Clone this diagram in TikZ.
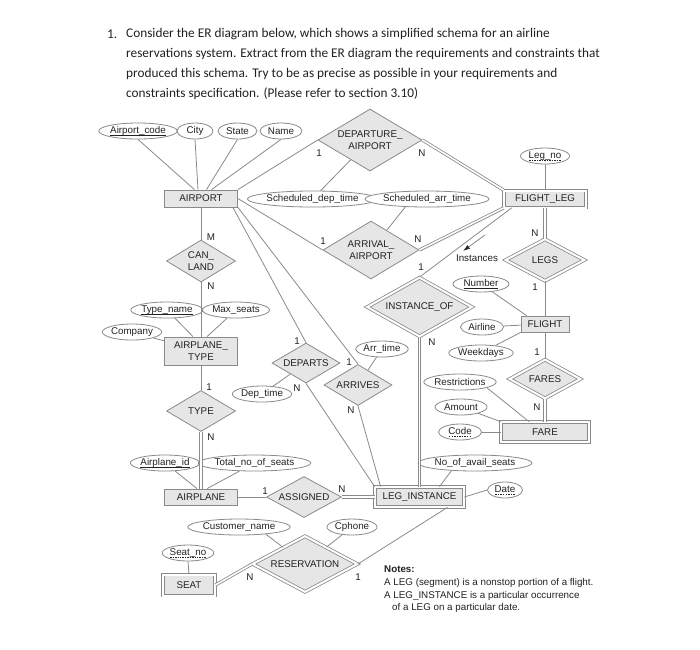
\documentclass[tikz,border=0pt]{standalone}
\usepackage{fontspec}
\setmainfont{Liberation Sans}
\newfontfamily\titlefont{Carlito}
\usetikzlibrary{shapes.geometric,arrows.meta,calc}
\definecolor{lc}{HTML}{8A8A8A}
\definecolor{ef}{HTML}{E6E6E6}
\definecolor{tc}{HTML}{222222}
\newcommand\erfont{\fontsize{9.8}{11.5}\selectfont}
\newcommand\ttlfont{\titlefont\fontsize{13.3}{20}\selectfont}
\newbox\myulbox
\newdimen\myulwd
\newcommand\solidul[1]{\setbox\myulbox\hbox{#1}\myulwd=\wd\myulbox\leavevmode\rlap{\lower2.2pt\hbox{\vrule width \myulwd height 0.45pt depth 0pt}}\copy\myulbox}
\newcommand\dashul[1]{\setbox\myulbox\hbox{#1}\myulwd=\wd\myulbox\leavevmode\rlap{\lower2.2pt\hbox to \myulwd{\xleaders\hbox to 2.4pt{\hss\vrule width 1.4pt height 0.45pt depth 0pt\hss}\hfill}}\copy\myulbox}
\begin{document}
\begin{tikzpicture}[x=1pt,y=-1pt,
  ent/.style={draw=lc, fill=ef, line width=0.8pt, rectangle, inner sep=0pt, font=\erfont, text=tc, align=center},
  went/.style={ent, double=white, double distance=2pt},
  rel/.style={draw=lc, fill=ef, line width=0.8pt, diamond, inner sep=0pt, font=\erfont, text=tc, align=center},
  wrel/.style={rel, double=white, double distance=2pt},
  att/.style={draw=lc, fill=white, ellipse, line width=0.8pt, inner sep=0pt, minimum height=16pt, font=\erfont, text=tc},
  card/.style={font=\erfont, text=tc, inner sep=0pt},
  ln/.style={draw=lc, line width=0.8pt},
  dln/.style={ln, double=white, double distance=1.6pt},
  txt/.style={inner sep=0pt, anchor=west, text=tc}
]
\useasboundingbox (0,0) rectangle (700,649);
\fill[white] (0,0) rectangle (700,649);

% title
\node[txt, font=\ttlfont] (t0) at (107,34) {1.};
\node[txt, font=\ttlfont] (t1) at (126,34) {Consider the ER diagram below, which shows a simplified schema for an airline};
\node[txt, font=\ttlfont] (t2) at (126,54) {reservations system. Extract from the ER diagram the requirements and constraints that};
\node[txt, font=\ttlfont] (t3) at (126,74) {produced this schema. Try to be as precise as possible in your requirements and};
\node[txt, font=\ttlfont] (t4) at (126,94) {constraints specification. (Please refer to section 3.10)};

% entities
\node[ent, minimum width=73pt, minimum height=17pt] (airport) at (201,198.5) {AIRPORT};
\node[went, minimum width=82pt, minimum height=17pt] (flightleg) at (545,199) {FLIGHT\_LEG};
\node[ent, minimum width=48pt, minimum height=16pt] (flight) at (545,324) {FLIGHT};
\node[ent, minimum width=73pt, minimum height=28pt] (aptype) at (201,351) {AIRPLANE\_\\TYPE};
\node[went, minimum width=88pt, minimum height=20pt] (fare) at (545,432) {FARE};
\node[ent, minimum width=73pt, minimum height=16pt] (airplane) at (201,497) {AIRPLANE};
\node[went, minimum width=89pt, minimum height=20pt] (leginst) at (419.5,497) {LEG\_INSTANCE};
\node[went, minimum width=52pt, minimum height=21pt] (seat) at (189,585) {SEAT};

% relationships
\node[rel, minimum width=104pt, minimum height=62pt, aspect=1.68] (dep) at (370,140) {DEPARTURE\_\\AIRPORT};
\node[rel, minimum width=96pt, minimum height=58pt, aspect=1.66] (arr) at (371,250) {ARRIVAL\_\\AIRPORT};
\node[rel, minimum width=69pt, minimum height=42pt, aspect=1.64] (canland) at (201,261) {CAN\_\\LAND};
\node[wrel, minimum width=79pt, minimum height=42pt, aspect=1.82] (legs) at (545,260) {LEGS};
\node[wrel, minimum width=105pt, minimum height=59pt, aspect=1.74] (inst) at (419.5,307) {INSTANCE\_OF};
\node[rel, minimum width=68pt, minimum height=40pt, aspect=1.7] (departs) at (306,363) {DEPARTS};
\node[rel, minimum width=68pt, minimum height=41pt, aspect=1.66] (arrives) at (358,385) {ARRIVES};
\node[wrel, minimum width=71pt, minimum height=39pt, aspect=1.76] (fares) at (545,379) {FARES};
\node[rel, minimum width=69pt, minimum height=41pt, aspect=1.68] (type) at (201,411) {TYPE};
\node[rel, minimum width=75pt, minimum height=41pt, aspect=1.83] (assigned) at (304,497) {ASSIGNED};
\node[wrel, minimum width=105pt, minimum height=56pt, aspect=1.83] (resv) at (305,564) {RESERVATION};

% attributes
\node[att, minimum width=70pt] (ac) at (138,131) {\solidul{Airport\_code}};
\node[att, minimum width=36pt] (city) at (195,131) {City};
\node[att, minimum width=39pt] (state) at (237.5,131) {State};
\node[att, minimum width=42pt] (name) at (281,131) {Name};
\node[att, minimum width=49pt] (legno) at (545,156) {\dashul{Leg\_no}};
\node[att, minimum width=110pt] (sdt) at (312.5,199) {Scheduled\_dep\_time};
\node[att, minimum width=104pt] (sat) at (427,199) {Scheduled\_arr\_time};
\node[att, minimum width=56pt] (number) at (481,284) {\solidul{Number}};
\node[att, minimum width=59pt] (tname) at (167,310) {\solidul{Type\_name}};
\node[att, minimum width=60pt] (mseats) at (236,310) {Max\_seats};
\node[att, minimum width=51pt] (company) at (132,332) {Company};
\node[att, minimum width=43pt] (airline) at (482,327) {Airline};
\node[att, minimum width=50pt] (arrtime) at (382,349) {Arr\_time};
\node[att, minimum width=55pt] (weekdays) at (481,353) {Weekdays};
\node[att, minimum width=65pt] (restr) at (460,382) {Restrictions};
\node[att, minimum width=50pt] (deptime) at (262,394) {Dep\_time};
\node[att, minimum width=52pt] (amount) at (461,407) {Amount};
\node[att, minimum width=43pt] (code) at (460,432) {\dashul{Code}};
\node[att, minimum width=66pt] (aid) at (165,463) {\solidul{Airplane\_id}};
\node[att, minimum width=97pt] (tseats) at (254.5,463) {Total\_no\_of\_seats};
\node[att, minimum width=91pt] (noas) at (475,463) {No\_of\_avail\_seats};
\node[att, minimum width=35pt] (date) at (505,490) {\dashul{Date}};
\node[att, minimum width=84pt] (cname) at (239,527) {Customer\_name};
\node[att, minimum width=50pt] (cphone) at (352,527) {Cphone};
\node[att, minimum width=50pt] (seatno) at (188,553) {\dashul{Seat\_no}};

% connectors
\draw[ln] (ac.south) -- ([xshift=-6.5pt]airport.north);
\draw[ln] (city.south) -- ([xshift=-3pt]airport.north);
\draw[ln] (state.south) -- ([xshift=5.5pt]airport.north);
\draw[ln] (name.south) -- ([xshift=10.5pt]airport.north);
\draw[ln] (airport.north east) -- (dep.west);
\draw[dln] (dep.east) -- (flightleg.north west);
\draw[ln] (sdt) -- (dep);
\draw[ln] (sat.200) -- (arr);
\draw[ln] (airport.east) -- (arr.west);
\draw[dln] (arr.east) -- (flightleg.south west);
\draw[ln] ([xshift=8pt]flightleg.south west) -- (inst.north);
\draw[ln] (legno.south) -- (flightleg.north);
\draw[dln] (flightleg.south) -- (legs.north);
\draw[ln] (legs.south) -- (flight.north);
\draw[ln] (number) -- ([xshift=6pt]flight.north west);
\draw[ln] (airline) -- (flight);
\draw[ln] (weekdays) -- (flight.south west);
\draw[ln] (flight.south) -- (fares.north);
\draw[dln] (fares.south) -- (fare.north);
\draw[ln] (restr.-12) -- ([xshift=-16pt]fare.north);
\draw[ln] (amount) -- (fare.north west);
\draw[ln] (code.east) -- (fare.west);
\draw[ln] (airport.south) -- (canland.north);
\draw[ln] (canland.south) -- (aptype.north);
\draw[ln] (tname) -- ([xshift=-8pt]aptype.north);
\draw[ln] (mseats) -- ([xshift=6pt]aptype.north);
\draw[ln] (company) -- (aptype);
\draw[ln] (aptype.south) -- (type.north);
\draw[dln] (type.south) -- (airplane.north);
\draw[ln] (aid) -- ([xshift=-4pt]airplane.north);
\draw[ln] (tseats) -- ([xshift=6pt]airplane.north);
\draw[ln] (airplane.east) -- (assigned.west);
\draw[dln] (assigned.east) -- (leginst.west);
\draw[ln] ([xshift=-5pt]airport.south east) -- (departs.north);
\draw[ln] (airport.south east) -- (arrives.north);
\draw[ln] (deptime) -- (departs);
\draw[ln] (arrtime) -- (arrives);
\draw[ln] (departs.south) -- (leginst.north west);
\draw[ln] (arrives.south) -- ([xshift=6pt]leginst.north west);
\draw[dln] (inst.south) -- (leginst.north);
\draw[ln] (noas.198) -- ([xshift=20pt]leginst.north);
\draw[ln] (date.west) -- (leginst.east);
\draw[ln] ([xshift=-17pt]leginst.south east) -- (resv.east);
\draw[ln] (cphone) -- (resv);
\draw[ln] (cname.-15) -- (resv);
\draw[ln] (seatno.south) -- (seat.north);
\draw[dln] (seat.east) -- (resv.west);

% Instances arrow
\coordinate (ia) at (485,235);
\coordinate (ib) at (463,251);
\draw[ln, -{Latex[length=7pt,width=4.5pt,color=black!85]}] (ia) -- (ib);
\node[card] (inslbl) at (477,258) {Instances};

% cardinalities
\node[card] (c1) at (319,153) {1};
\node[card] (c2) at (422,153) {N};
\node[card] (c3) at (323,241) {1};
\node[card] (c4) at (418,239) {N};
\node[card] (c5) at (421,267) {1};
\node[card] (c6) at (432,342) {N};
\node[card] (c7) at (535,233) {N};
\node[card] (c8) at (535,287) {1};
\node[card] (c9) at (537,352) {1};
\node[card] (c10) at (537,407) {N};
\node[card] (c11) at (211,237) {M};
\node[card] (c12) at (211,286) {N};
\node[card] (c13) at (209,387) {1};
\node[card] (c14) at (211,437) {N};
\node[card] (c15) at (297,341) {1};
\node[card] (c16) at (297,388) {N};
\node[card] (c17) at (349,362) {1};
\node[card] (c18) at (351,410) {N};
\node[card] (c19) at (265,491) {1};
\node[card] (c20) at (342,489) {N};
\node[card] (c21) at (250,577) {N};
\node[card] (c22) at (358,577) {1};

% notes
\node[txt, font=\erfont\bfseries] (n0) at (384,569) {Notes:};
\node[txt, font=\erfont] (n1) at (384,582.5) {A LEG (segment) is a nonstop portion of a flight.};
\node[txt, font=\erfont] (n2) at (384,595.5) {A LEG\_INSTANCE is a particular occurrence};
\node[txt, font=\erfont] (n3) at (392,607.5) {of a LEG on a particular date.};
\end{tikzpicture}
\end{document}
